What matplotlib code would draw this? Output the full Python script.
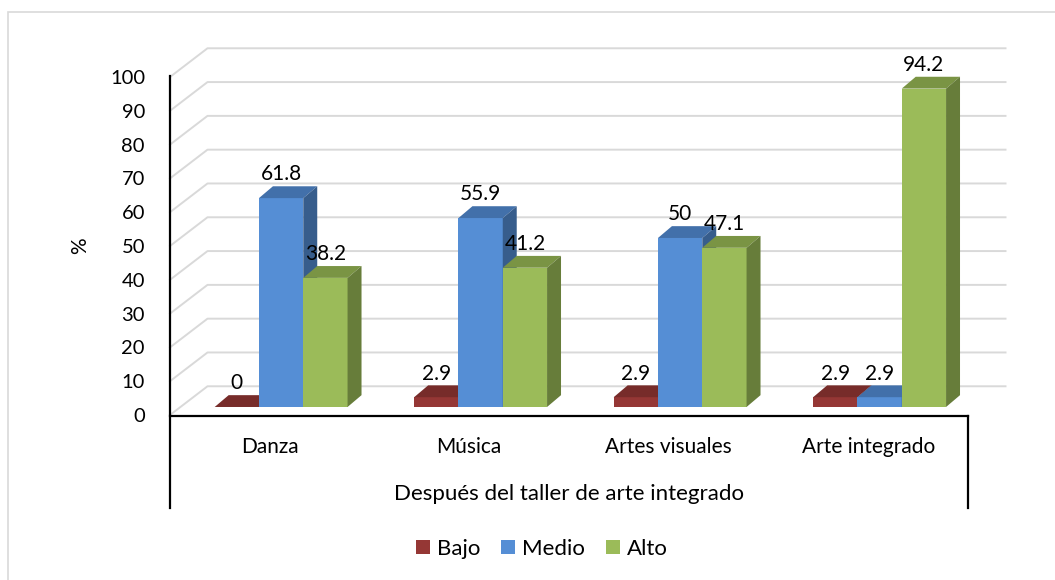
import matplotlib
matplotlib.use('Agg')
import matplotlib.pyplot as plt
from matplotlib.patches import Polygon, Rectangle, Patch

plt.rcParams['font.family'] = ['Lato', 'DejaVu Sans']

# data
categories = ['Danza', 'Música', 'Artes visuales', 'Arte integrado']
series = ['Bajo', 'Medio', 'Alto']
bajo = [0, 2.9, 2.9, 2.9]
medio = [61.8, 55.9, 50, 2.9]
alto = [38.2, 41.2, 47.1, 94.2]
y_ticks = list(range(0, 101, 10))
x_title = 'Después del taller de arte integrado'

# face colours: front, top, side
front = ['#953735', '#558ED5', '#9BBB59']
top = ['#772C2A', '#4270AA', '#7A9444']
side = ['#6E2826', '#375D8C', '#677D3A']

fs = 15
fig = plt.figure(figsize=(10.55, 5.8), dpi=100)
ax = fig.add_axes([170 / 1055, 1 - 415 / 580, 798 / 1055, 338 / 580])
ax.set_xlim(0, 4)
ax.set_ylim(0, 100)
for s in ax.spines.values():
    s.set_visible(False)
ax.set_xticks([])
ax.set_yticks(y_ticks)
ax.tick_params(axis='y', length=0, pad=18, labelsize=14.5)
ax.set_ylabel('%', fontsize=fs, labelpad=14)

# back wall and floor grid (3d look)
wall_dx, wall_dy = 0.188, 8.5
for v in y_ticks:
    ax.plot([0, wall_dx, 4 + wall_dx], [v, v + wall_dy, v + wall_dy],
            color='#D9D9D9', lw=1.4, clip_on=False, zorder=1)

# bars
base = 2.37
w = 0.222
off = 0.224
ddx, ddy = 0.07, 3.5
z = 3
for i in range(len(categories)):
    for k, vals in enumerate([bajo, medio, alto]):
        v = vals[i]
        x0 = i + off + k * w
        ax.bar(x0, v, width=w, bottom=base, align='edge', color=front[k],
               zorder=z)
        ax.add_patch(Polygon([(x0, base + v), (x0 + ddx, base + v + ddy),
                              (x0 + w + ddx, base + v + ddy), (x0 + w, base + v)],
                             closed=True, facecolor=top[k], edgecolor='none',
                             zorder=z, clip_on=False))
        ax.add_patch(Polygon([(x0 + w, base), (x0 + w + ddx, base + ddy),
                              (x0 + w + ddx, base + v + ddy), (x0 + w, base + v)],
                             closed=True, facecolor=side[k], edgecolor='none',
                             zorder=z, clip_on=False))
        ax.text(x0 + w / 2, base + v + 7.0, f'{v:g}', ha='center', va='center',
                fontsize=fs, zorder=50, clip_on=False)
        z += 1

# axis lines (multi-level category box)
ax.plot([0, 0], [100.3, -27.5], color='black', lw=1.6, clip_on=False, zorder=60)
ax.plot([0, 4], [-0.3, -0.3], color='black', lw=1.6, clip_on=False, zorder=60)
ax.plot([4, 4], [-0.3, -27.5], color='black', lw=1.6, clip_on=False, zorder=60)

for i, c in enumerate(categories):
    ax.text(i + 0.5, -9.5, c, ha='center', va='center', fontsize=fs, clip_on=False)
ax.text(2, -23.4, x_title, ha='center', va='center', fontsize=16, clip_on=False)

handles = [Patch(facecolor=c, edgecolor='none') for c in front]
fig.legend(handles, series, loc='center', bbox_to_anchor=(542 / 1055, 1 - 549 / 580),
           ncol=3, frameon=False, handlelength=0.62, handleheight=0.62,
           handletextpad=0.34, columnspacing=0.92, fontsize=16)

fig.patches.append(Rectangle((8 / 1055, -0.05), 1.1, (1 - 12 / 580) + 0.05,
                             transform=fig.transFigure, fill=False,
                             edgecolor='#D9D9D9', lw=1.2))

fig.savefig('out.png', dpi=100)
